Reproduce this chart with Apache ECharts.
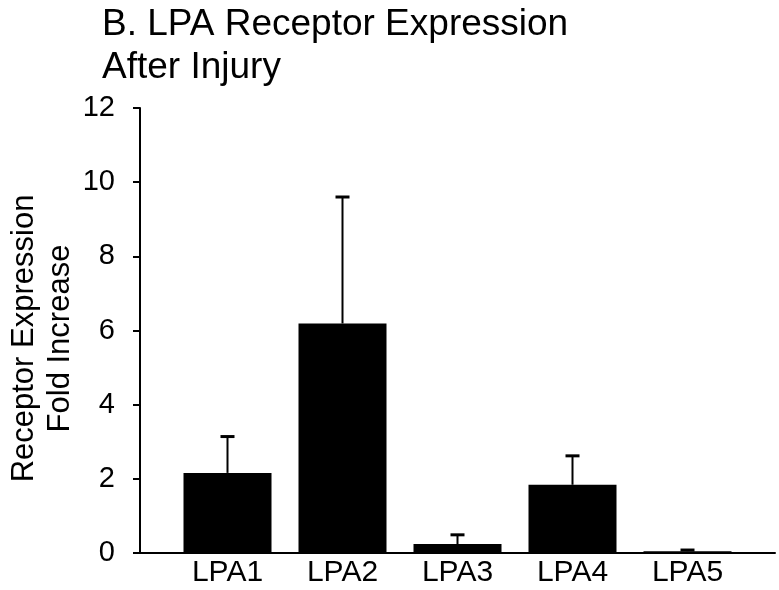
<!DOCTYPE html>
<html>
<head>
<meta charset="utf-8">
<script src="https://cdn.jsdelivr.net/npm/echarts@6/dist/echarts.min.js"></script>
<style>
  html, body { margin: 0; padding: 0; background: #fff; }
  #chart { width: 779px; height: 590px; }
</style>
</head>
<body>
<div id="chart"></div>
<script>
// data
const categories = ["LPA1", "LPA2", "LPA3", "LPA4", "LPA5"];
const foldIncrease = [2.16, 6.19, 0.24, 1.84, 0.05];
const errorUp = [0.98, 3.41, 0.25, 0.78, 0.03];
const yTicks = { min: 0, max: 12, interval: 2 };

const FONT = "Liberation Sans, Arial, sans-serif";

const chart = echarts.init(document.getElementById("chart"), null, { renderer: "canvas" });

const errData = categories.map((c, i) => [i, foldIncrease[i], foldIncrease[i] + errorUp[i]]);

const option = {
  animation: false,
  backgroundColor: "#fff",
  title: {
    text: "B. LPA Receptor Expression\nAfter Injury",
    left: 97,
    top: -2,
    textStyle: { fontFamily: FONT, fontSize: 37, fontWeight: "normal", color: "#000", lineHeight: 43 }
  },
  grid: [
    { left: 170, right: 34, top: 108, bottom: 37, outerBoundsMode: "none" },
    { left: 140, right: 4, top: 108, bottom: 37, outerBoundsMode: "none" }
  ],
  xAxis: [
    {
      type: "category",
      gridIndex: 0,
      data: categories,
      axisLine: { show: false },
      axisTick: { show: false },
      axisLabel: { fontFamily: FONT, fontSize: 30, color: "#000", margin: 5 }
    },
    {
      type: "value",
      gridIndex: 1,
      min: 0,
      max: 1,
      axisLine: { show: true, lineStyle: { color: "#000", width: 2 } },
      axisTick: { show: false },
      axisLabel: { show: false },
      splitLine: { show: false }
    }
  ],
  yAxis: [
    {
      type: "value",
      gridIndex: 0,
      min: yTicks.min,
      max: yTicks.max,
      interval: yTicks.interval,
      offset: 30,
      name: "Receptor Expression\nFold Increase",
      nameLocation: "middle",
      nameGap: 62,
      nameMoveOverlap: false,
      nameTextStyle: { fontFamily: FONT, fontSize: 31, color: "#000", lineHeight: 36, padding: [0, 16, 0, 0] },
      axisLine: { show: true, lineStyle: { color: "#000", width: 2 } },
      axisTick: { show: true, length: 7, lineStyle: { color: "#000", width: 2 } },
      axisLabel: { fontFamily: FONT, fontSize: 29, color: "#000", margin: 25 },
      splitLine: { show: false }
    },
    {
      type: "value",
      gridIndex: 1,
      min: 0,
      max: 1,
      show: false
    }
  ],
  series: [
    {
      type: "bar",
      xAxisIndex: 0,
      yAxisIndex: 0,
      data: foldIncrease,
      barWidth: 88,
      itemStyle: { color: "#000" }
    },
    {
      type: "custom",
      xAxisIndex: 0,
      yAxisIndex: 0,
      data: errData,
      z: 5,
      renderItem: function (params, api) {
        const base = api.coord([api.value(0), api.value(1)]);
        const top = api.coord([api.value(0), api.value(2)]);
        const half = 7;
        return {
          type: "group",
          children: [
            {
              type: "line",
              shape: { x1: base[0], y1: base[1], x2: top[0], y2: top[1] },
              style: { stroke: "#000", lineWidth: 2 }
            },
            {
              type: "line",
              shape: { x1: top[0] - half, y1: top[1], x2: top[0] + half, y2: top[1] },
              style: { stroke: "#000", lineWidth: 3 }
            }
          ]
        };
      }
    }
  ]
};

chart.setOption(option);
</script>
</body>
</html>
